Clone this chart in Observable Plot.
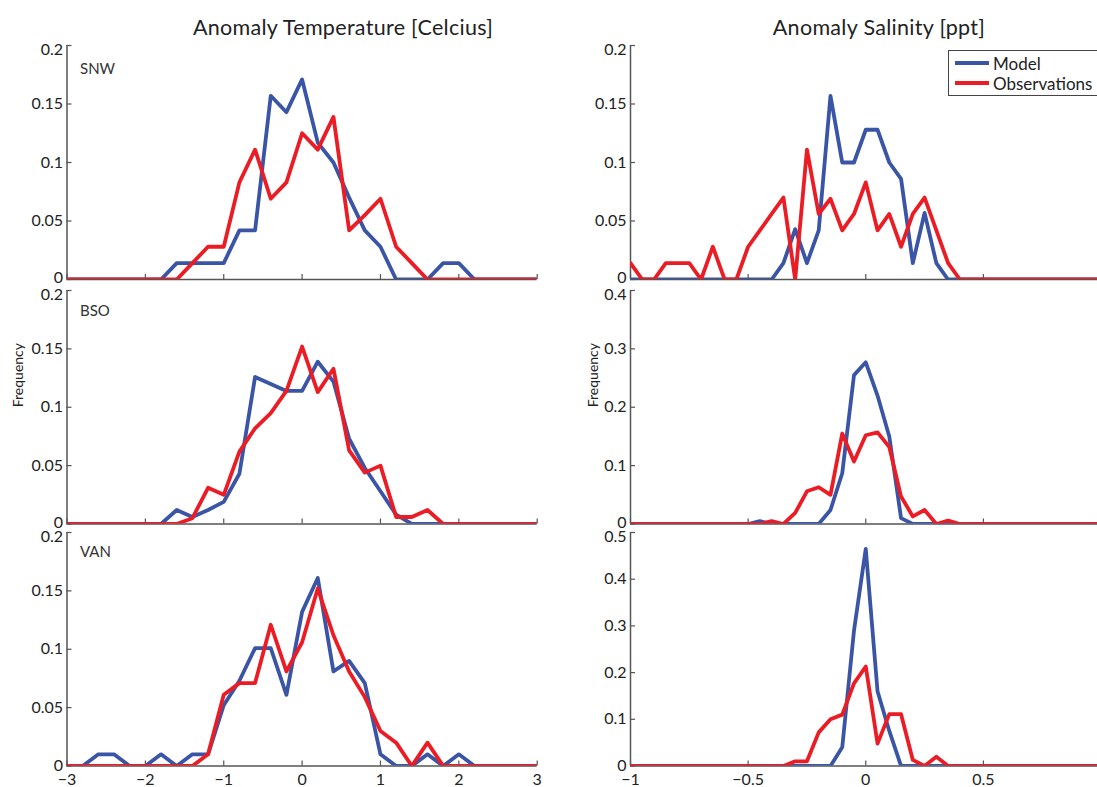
<!DOCTYPE html>
<html>
<head>
<meta charset="utf-8">
<script src="https://cdn.jsdelivr.net/npm/d3@7"></script>
<script src="https://cdn.jsdelivr.net/npm/@observablehq/plot@0.6"></script>
<style>
  html, body { margin: 0; padding: 0; background: #fff; }
  #root { position: relative; width: 1097px; height: 787px; overflow: hidden; font-family: Lato, "Open Sans", sans-serif; color: #222; }
  .panel { position: absolute; }
  .title { position: absolute; font-size: 21.5px; letter-spacing: 0.3px; line-height: 26px; white-space: nowrap; transform: translateX(-50%); color: #222; }
  .legend { position: absolute; left: 948px; top: 50px; width: 170px; height: 44px; border: 1.2px solid #444; background: #fff; font-size: 17px; }
  .legend .row { position: absolute; left: 6px; height: 20px; display: flex; align-items: center; }
  .legend .sw { width: 34px; height: 4px; margin-right: 4px; }
</style>
</head>
<body>
<div id="root"></div>
<script>
// ---------- data ----------
const tempX = [-3, -2.8, -2.6, -2.4, -2.2, -2, -1.8, -1.6, -1.4, -1.2, -1, -0.8, -0.6, -0.4, -0.2, 0,
               0.2, 0.4, 0.6, 0.8, 1, 1.2, 1.4, 1.6, 1.8, 2, 2.2, 2.4, 2.6, 2.8, 3];
const salX = [-1, -0.95, -0.9, -0.85, -0.8, -0.75, -0.7, -0.65, -0.6, -0.55, -0.5, -0.45, -0.4, -0.35, -0.3,
              -0.25, -0.2, -0.15, -0.1, -0.05, 0, 0.05, 0.1, 0.15, 0.2, 0.25, 0.3, 0.35, 0.4, 0.45, 0.5,
              0.55, 0.6, 0.65, 0.7, 0.75, 0.8, 0.85, 0.9, 0.95, 1];

const stations = ["SNW", "BSO", "VAN"];
const seriesNames = ["Model", "Observations"];

// Temperature frequency (x = tempX)
const snwTempModel = [0,0,0,0,0,0,0,0.014,0.014,0.014,0.014,0.042,0.042,0.157,0.143,0.171,
                      0.117,0.1,0.07,0.042,0.028,0,0,0,0.014,0.014,0,0,0,0,0];
const snwTempObs   = [0,0,0,0,0,0,0,0,0.014,0.028,0.028,0.083,0.111,0.069,0.083,0.125,
                      0.111,0.139,0.042,0.055,0.069,0.028,0.014,0,0,0,0,0,0,0,0];
const bsoTempModel = [0,0,0,0,0,0,0,0.012,0.006,0.012,0.019,0.043,0.126,0.12,0.114,0.114,
                      0.139,0.122,0.073,0.048,0.028,0.008,0,0,0,0,0,0,0,0,0];
const bsoTempObs   = [0,0,0,0,0,0,0,0,0.005,0.031,0.025,0.062,0.082,0.095,0.114,0.152,
                      0.113,0.133,0.063,0.044,0.05,0.006,0.006,0.012,0,0,0,0,0,0,0];
const vanTempModel = [0,0,0.01,0.01,0,0,0.01,0,0.01,0.01,0.052,0.073,0.101,0.101,0.061,0.132,
                      0.161,0.081,0.09,0.071,0.01,0,0,0.01,0,0.01,0,0,0,0,0];
const vanTempObs   = [0,0,0,0,0,0,0,0,0,0.01,0.061,0.071,0.071,0.121,0.081,0.106,
                      0.152,0.112,0.081,0.059,0.03,0.02,0,0.02,0,0,0,0,0,0,0];

// Salinity frequency (x = salX)
const snwSalModel = [0,0,0,0,0,0,0,0,0,0,0,0,0,0.014,0.043,0.014,0.042,0.157,0.1,0.1,
                     0.128,0.128,0.1,0.086,0.014,0.057,0.014,0,0,0,0,0,0,0,0,0,0,0,0,0,0];
const snwSalObs   = [0.014,0,0,0.014,0.014,0.014,0,0.028,0,0,0.028,0.042,0.056,0.07,0,0.111,0.056,0.069,0.042,0.056,
                     0.083,0.042,0.056,0.028,0.056,0.07,0.042,0.014,0,0,0,0,0,0,0,0,0,0,0,0,0];
const bsoSalModel = [0,0,0,0,0,0,0,0,0,0,0,0.005,0,0,0,0,0,0.024,0.087,0.255,
                     0.277,0.22,0.15,0.01,0,0,0,0,0,0,0,0,0,0,0,0,0,0,0,0,0];
const bsoSalObs   = [0,0,0,0,0,0,0,0,0,0,0,0,0.005,0,0.019,0.056,0.063,0.05,0.155,0.107,
                     0.152,0.157,0.132,0.047,0.013,0.024,0,0.006,0,0,0,0,0,0,0,0,0,0,0,0,0];
const vanSalModel = [0,0,0,0,0,0,0,0,0,0,0,0,0,0,0,0,0,0,0.04,0.29,
                     0.465,0.16,0.075,0,0,0,0,0,0,0,0,0,0,0,0,0,0,0,0,0,0];
const vanSalObs   = [0,0,0,0,0,0,0,0,0,0,0,0,0,0,0.01,0.01,0.072,0.1,0.11,0.177,
                     0.213,0.048,0.111,0.111,0.013,0,0.02,0,0,0,0,0,0,0,0,0,0,0,0,0,0];

// Axis ticks
const tempXTicks = [-3, -2, -1, 0, 1, 2, 3];
const salXTicks = [-1, -0.5, 0, 0.5];
const tempYTicks = [0, 0.05, 0.1, 0.15, 0.2];
const salYTicksTop = [0, 0.05, 0.1, 0.15, 0.2];
const salYTicksMid = [0, 0.1, 0.2, 0.3, 0.4];
const salYTicksBot = [0, 0.1, 0.2, 0.3, 0.4, 0.5];

const colTitles = ["Anomaly Temperature [Celcius]", "Anomaly Salinity [ppt]"];
const yLabel = "Frequency";

// ---------- styling ----------
const BLUE = "#3a55a6";
const RED = "#ec1c24";
const AXIS = "#555";
const FONT = "Lato, 'Open Sans', sans-serif";
const fmt = d => (d < 0 ? "\u2212" + Math.abs(d) : String(d));

const root = document.getElementById("root");

// panel frames (pixel layout)
const rows = [{top: 45, bottom: 279}, {top: 289.5, bottom: 523}, {top: 532, bottom: 765.5}];
const cols = [
  {svgLeft: 0, width: 550, marginLeft: 66.5, marginRight: 13.3, xDomain: [-3, 3], xTicks: tempXTicks, xs: tempX, freqDx: -48},
  {svgLeft: 570, width: 527, marginLeft: 60, marginRight: 0, xDomain: [-1, 0.985], xTicks: salXTicks, xs: salX, freqDx: -37}
];

const panels = [
  {r: 0, c: 0, label: stations[0], model: snwTempModel, obs: snwTempObs, yMax: 0.2, yTicks: tempYTicks, labelDy: 18},
  {r: 1, c: 0, label: stations[1], model: bsoTempModel, obs: bsoTempObs, yMax: 0.2, yTicks: tempYTicks, labelDy: 15},
  {r: 2, c: 0, label: stations[2], model: vanTempModel, obs: vanTempObs, yMax: 0.2, yTicks: tempYTicks, labelDy: 14},
  {r: 0, c: 1, label: null, model: snwSalModel, obs: snwSalObs, yMax: 0.2, yTicks: salYTicksTop},
  {r: 1, c: 1, label: null, model: bsoSalModel, obs: bsoSalObs, yMax: 0.4, yTicks: salYTicksMid},
  {r: 2, c: 1, label: null, model: vanSalModel, obs: vanSalObs, yMax: 0.5, yTicks: salYTicksBot}
];

const padTop = 15, padBottom = 30;

for (const p of panels) {
  const row = rows[p.r], col = cols[p.c];
  const xs = col.xs;
  const modelData = xs.map((x, i) => ({x, y: p.model[i], s: seriesNames[0]}));
  const obsData = xs.map((x, i) => ({x, y: p.obs[i], s: seriesNames[1]}));
  const showX = p.r === 2;
  const zeroTick = p.yTicks.slice(0, 1);
  const midTicks = p.yTicks.slice(1, -1);
  const topTick = p.yTicks.slice(-1);
  const lab = {anchor: "left", tickSize: 0, tickPadding: 4, tickFormat: fmt, label: null, fontSize: 16, fill: "#222"};
  const marks = [
    Plot.ruleY([0], {stroke: AXIS, strokeWidth: 1.5}),
    Plot.ruleX([col.xDomain[0]], {stroke: AXIS, strokeWidth: 1.5}),
    Plot.axisY(p.yTicks, {anchor: "left", tickSize: -5, tickFormat: () => "", stroke: AXIS, strokeWidth: 1.2, label: null}),
    Plot.axisY(zeroTick, {...lab, dy: p.r === 2 ? 0 : -1.5}),
    Plot.axisY(midTicks, lab),
    Plot.axisY(topTick, {...lab, dy: 4}),
    Plot.axisX(col.xTicks, {anchor: "bottom", tickSize: -5, tickFormat: () => "", stroke: AXIS, strokeWidth: 1.2, label: null}),
    Plot.line(modelData, {x: "x", y: "y", stroke: BLUE, strokeWidth: 3.8, clip: true}),
    Plot.line(obsData, {x: "x", y: "y", stroke: RED, strokeWidth: 3.8, clip: true})
  ];
  if (showX) marks.push(Plot.axisX(col.xTicks, {anchor: "bottom", tickSize: 0, tickPadding: 8, tickFormat: fmt, label: null, fontSize: 16, fill: "#222"}));
  if (p.label) marks.push(Plot.text([p.label], {frameAnchor: "top-left", dx: 13, dy: p.labelDy, textAnchor: "start", fontSize: 15, fill: "#333"}));
  if (p.r === 1) marks.push(Plot.text([yLabel], {frameAnchor: "left", rotate: -90, dx: col.freqDx, fontSize: 14, fill: "#222"}));

  const chart = Plot.plot({
    width: col.width,
    height: (row.bottom - row.top) + padTop + padBottom,
    marginLeft: col.marginLeft,
    marginRight: col.marginRight,
    marginTop: padTop,
    marginBottom: padBottom,
    x: {domain: col.xDomain, axis: null},
    y: {domain: [0, p.yMax], axis: null},
    style: {background: "transparent", overflow: "visible", fontFamily: FONT, fontSize: "14px", color: "#222"},
    marks
  });
  chart.style.maxWidth = "none";
  const wrap = document.createElement("div");
  wrap.className = "panel";
  wrap.style.left = col.svgLeft + "px";
  wrap.style.top = (row.top - padTop) + "px";
  wrap.appendChild(chart);
  root.appendChild(wrap);
}

// column titles
const titleCenters = [343, 879];
colTitles.forEach((t, i) => {
  const d = document.createElement("div");
  d.className = "title";
  d.style.left = titleCenters[i] + "px";
  d.style.top = "14px";
  d.textContent = t;
  root.appendChild(d);
});

// legend
const leg = document.createElement("div");
leg.className = "legend";
[BLUE, RED].forEach((c, i) => {
  const r = document.createElement("div");
  r.className = "row";
  r.style.top = (2 + i * 20) + "px";
  const sw = document.createElement("div");
  sw.className = "sw";
  sw.style.background = c;
  const tx = document.createElement("span");
  tx.textContent = seriesNames[i];
  r.appendChild(sw); r.appendChild(tx);
  leg.appendChild(r);
});
root.appendChild(leg);
</script>
</body>
</html>
